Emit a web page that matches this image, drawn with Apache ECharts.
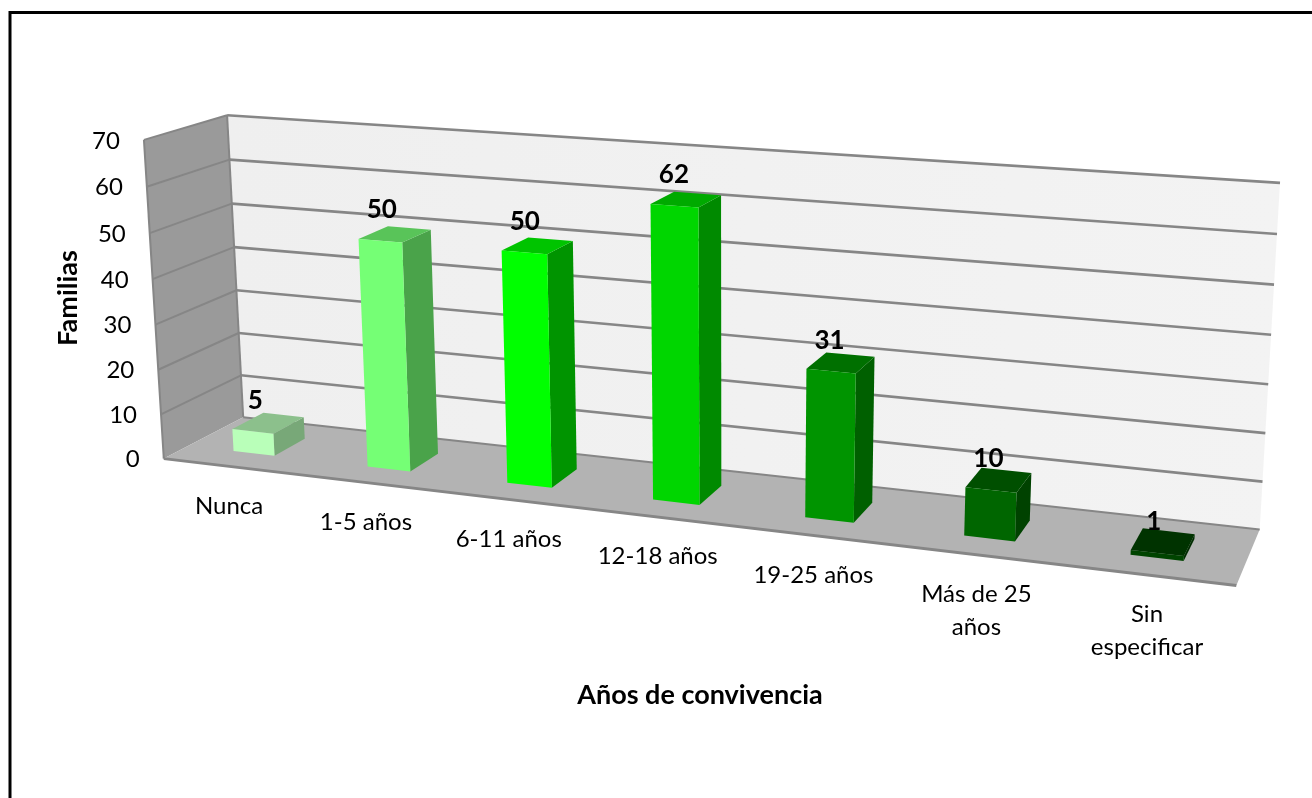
<!DOCTYPE html>
<html>
<head>
<meta charset="utf-8">
<style>html,body{margin:0;padding:0;background:#fff}#chart{width:1312px;height:798px}</style>
<script src="https://cdn.jsdelivr.net/npm/echarts@6/dist/echarts.min.js"></script>
</head>
<body>
<div id="chart"></div>
<script>
// Data
const categories = ['Nunca', '1-5 años', '6-11 años', '12-18 años', '19-25 años', 'Más de 25\naños', 'Sin\nespecificar'];
const familias = [5, 50, 50, 62, 31, 10, 1];
const valueTicks = [0, 10, 20, 30, 40, 50, 60, 70];

// Per-category shades for the three visible faces of a column
const frontShades = ['#b9ffb9', '#75ff75', '#00ff00', '#00d600', '#009400', '#006600', '#004400'];
const sideShades = ['#78a878', '#4aa34a', '#009400', '#008a00', '#006000', '#004200', '#002c00'];
const topShades = ['#8cc08c', '#59c459', '#00c400', '#00aa00', '#007000', '#004f00', '#003300'];

// Box of the 3D chamber: unit-cube corner -> page position
const chamberCorners = [
  [0, 1, 0, 144, 139], [0, 0, 0, 164, 459],
  [0, 1, 1, 227, 116], [0, 0, 1, 243, 417],
  [1, 1, 1, 1280, 183], [1, 0, 1, 1260, 529],
  [1, 0, 0, 1236, 586]
];
const barBand = 0.31;            // column width as a share of a category
const barDepth = [0.3, 0.7];     // column front/back inside the chamber depth
const FONT = 'Lato, Carlito, sans-serif';
const EDGE = '#868686';

// Least-squares fit of a pinhole camera through the chamber corners
function fitCamera(pts) {
  const n = 11, N = [], b = new Array(n).fill(0);
  for (let i = 0; i < n; i++) N.push(new Array(n).fill(0));
  const add = (row, rhs) => {
    for (let i = 0; i < n; i++) {
      b[i] += row[i] * rhs;
      for (let j = 0; j < n; j++) N[i][j] += row[i] * row[j];
    }
  };
  pts.forEach(([X, Y, Z, sx, sy]) => {
    const u = sx / 1000, v = sy / 1000;
    add([X, Y, Z, 1, 0, 0, 0, 0, -u * X, -u * Y, -u * Z], u);
    add([0, 0, 0, 0, X, Y, Z, 1, -v * X, -v * Y, -v * Z], v);
  });
  for (let c = 0; c < n; c++) {
    let p = c;
    for (let r = c + 1; r < n; r++) if (Math.abs(N[r][c]) > Math.abs(N[p][c])) p = r;
    [N[c], N[p]] = [N[p], N[c]];
    [b[c], b[p]] = [b[p], b[c]];
    for (let r = c + 1; r < n; r++) {
      const f = N[r][c] / N[c][c];
      for (let k = c; k < n; k++) N[r][k] -= f * N[c][k];
      b[r] -= f * b[c];
    }
  }
  const x = new Array(n).fill(0);
  for (let r = n - 1; r >= 0; r--) {
    let s = b[r];
    for (let k = r + 1; k < n; k++) s -= N[r][k] * x[k];
    x[r] = s / N[r][r];
  }
  return x;
}
const cam = fitCamera(chamberCorners);
function project(X, Y, Z) {
  const w = cam[8] * X + cam[9] * Y + cam[10] * Z + 1;
  return [
    1000 * (cam[0] * X + cam[1] * Y + cam[2] * Z + cam[3]) / w,
    1000 * (cam[4] * X + cam[5] * Y + cam[6] * Z + cam[7]) / w
  ];
}

// Flat grid position from the axes -> unit cube coordinates
function toUnit(params, api, cat, val) {
  const r = params.coordSys, p = api.coord([cat, val]);
  return [(p[0] - r.x) / r.width, (r.y + r.height - p[1]) / r.height];
}
const quad = (points, fill) => ({ type: 'polygon', shape: { points }, style: { fill } });
const seg = (a, b, w) => ({
  type: 'line',
  shape: { x1: a[0], y1: a[1], x2: b[0], y2: b[1] },
  style: { stroke: EDGE, lineWidth: w }
});

function renderChamber() {
  const P = (x, y, z) => project(x, y, z);
  const shade = (a, b) => ({
    type: 'linear', x: 0, y: 0, x2: 1, y2: 0,
    colorStops: [{ offset: 0, color: a }, { offset: 1, color: b }]
  });
  return {
    type: 'group',
    children: [
      quad([P(0, 1, 1), P(1, 1, 1), P(1, 0, 1), P(0, 0, 1)], shade('#efefef', '#f3f3f3')),
      quad([P(0, 1, 0), P(0, 1, 1), P(0, 0, 1), P(0, 0, 0)], '#9a9a9a'),
      quad([P(0, 0, 1), P(1, 0, 1), P(1, 0, 0), P(0, 0, 0)], '#b3b3b3'),
      seg(P(0, 1, 0), P(0, 0, 0), 2),
      seg(P(0, 1, 1), P(0, 0, 1), 2),
      seg(P(0, 0, 0), P(1, 0, 0), 3),
      seg(P(0, 0, 1), P(1, 0, 1), 2)
    ]
  };
}

function renderGridTick(params, api) {
  const t = api.value(0);
  const y = toUnit(params, api, 0, t)[1];
  const front = project(0, y, 0), back = project(0, y, 1), right = project(1, y, 1);
  const children = [];
  if (t > 0) {
    children.push(seg(front, back, 2), seg(back, right, 2.6));
  }
  children.push({
    type: 'text',
    style: {
      text: String(t), x: front[0] - 24, y: front[1] + 1,
      align: 'right', verticalAlign: 'middle',
      font: '24px ' + FONT, fill: '#000'
    }
  });
  return { type: 'group', children };
}

function renderColumn(params, api) {
  const i = api.value(0), v = api.value(1);
  const c = toUnit(params, api, i, 0)[0];
  const half = toUnit(params, api, 1, 0)[0] - toUnit(params, api, 0, 0)[0];
  const x0 = c - half * barBand / 2, x1 = c + half * barBand / 2;
  const top = toUnit(params, api, i, v)[1];
  const [z0, z1] = barDepth;
  const anchor = project(c, top, z0);
  const base = project(c, 0, 0);
  return {
    type: 'group',
    children: [
      quad([project(x1, top, z0), project(x1, top, z1), project(x1, 0, z1), project(x1, 0, z0)], sideShades[i]),
      quad([project(x0, top, z0), project(x0, top, z1), project(x1, top, z1), project(x1, top, z0)], topShades[i]),
      quad([project(x0, top, z0), project(x1, top, z0), project(x1, 0, z0), project(x0, 0, z0)], frontShades[i]),
      {
        type: 'text',
        style: {
          text: String(v), x: anchor[0] + 3 - 7 * c, y: anchor[1] - 31,
          align: 'center', verticalAlign: 'middle',
          font: 'bold 26px ' + FONT, fill: '#000'
        }
      },
      {
        type: 'text',
        style: {
          text: categories[i], x: base[0] - 1, y: base[1] + 23,
          align: 'center', verticalAlign: 'top', lineHeight: 33,
          font: '24px ' + FONT, fill: '#000'
        }
      }
    ]
  };
}

const chart = echarts.init(document.getElementById('chart'), null, { renderer: 'canvas' });
chart.setOption({
  animation: false,
  backgroundColor: '#fff',
  tooltip: { show: false },
  grid: { left: 0, right: 0, top: 0, bottom: 0 },
  xAxis: { type: 'category', data: categories, show: false },
  yAxis: { type: 'value', min: 0, max: 70, interval: 10, show: false },
  series: [
    { type: 'custom', name: 'Cámara', renderItem: renderChamber, data: [[0, 0]], clip: false, silent: true, z: 1 },
    { type: 'custom', name: 'Escala', renderItem: renderGridTick, data: valueTicks.map(t => [t]), encode: { x: -1, y: 0 }, clip: false, silent: true, z: 2 },
    { type: 'custom', name: 'Familias', renderItem: renderColumn, data: familias.map((v, i) => [i, v]), encode: { x: 0, y: 1 }, clip: false, silent: true, z: 3 }
  ],
  graphic: [
    { type: 'polyline', z: 10, shape: { points: [[10, 798], [10, 12.5], [1312, 12.5]] }, style: { stroke: '#000', lineWidth: 3, fill: 'none' } },
    { type: 'text', z: 10, x: 700, y: 695, style: { text: 'Años de convivencia', align: 'center', verticalAlign: 'middle', font: 'bold 27px ' + FONT, fill: '#000' } },
    { type: 'text', z: 10, x: 68, y: 298, rotation: Math.PI / 2, style: { text: 'Familias', align: 'center', verticalAlign: 'middle', font: 'bold 27px ' + FONT, fill: '#000' } }
  ]
});
</script>
</body>
</html>
